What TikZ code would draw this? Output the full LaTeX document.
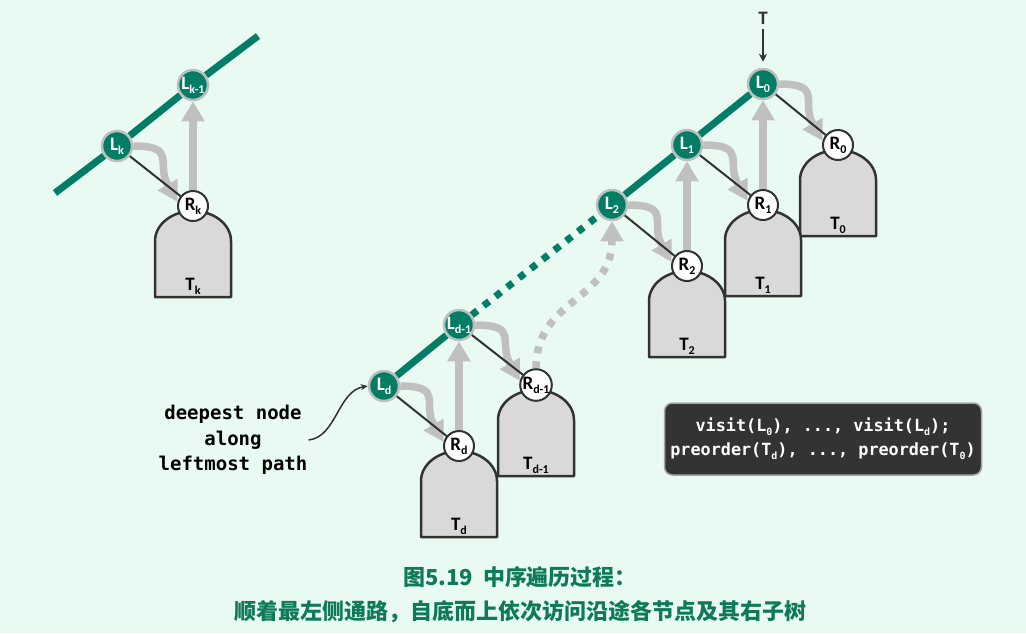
\documentclass[tikz,border=0pt]{standalone}
\usepackage{fontspec}
\setmainfont{Carlito}
\newfontfamily\mono{DejaVu Sans Mono}
\newfontfamily\cjk{Noto Sans CJK SC}
\usetikzlibrary{arrows.meta,calc}
\definecolor{bgc}{RGB}{232,250,241}
\definecolor{grn}{RGB}{0,125,100}
\definecolor{gry}{RGB}{192,192,192}
\definecolor{lbord}{RGB}{190,190,190}
\definecolor{dk}{RGB}{50,50,50}
\definecolor{domefill}{RGB}{217,217,217}
\definecolor{capc}{RGB}{14,122,90}
\definecolor{boxc}{RGB}{51,51,51}
\definecolor{boxb}{RGB}{165,165,165}
\newcommand\sbs[1]{\raisebox{-0.22em}{\fontsize{12}{12}\selectfont #1}}
\newcommand\sbm[1]{\raisebox{-0.22em}{\fontsize{10}{10}\selectfont #1}}
\pgfdeclarelayer{bgl}\pgfdeclarelayer{arr}\pgfdeclarelayer{edg}\pgfdeclarelayer{dom}
\pgfsetlayers{bgl,arr,edg,dom,main}
\newcommand\dome[2]{%
  \begin{pgfonlayer}{dom}
    \draw[domest] ($(#1)+(-38,-91)$) -- ($(#1)+(-38,-35)$)
      arc[start angle=180,end angle=0,x radius=38,y radius=30]
      -- ($(#1)+(38,-91)$) -- cycle;
  \end{pgfonlayer}
  \node[tlab] (T-#1) at ($(#1)+(0,-80)$) {T\sbs{#2}};}
\begin{document}
\begin{tikzpicture}[x=1pt,y=1pt,
  lnode/.style={circle,minimum size=30pt,inner sep=0pt,fill=grn,draw=lbord,line width=2.5pt,text=white,font=\bfseries\fontsize{19}{19}\selectfont},
  rnode/.style={circle,minimum size=30pt,inner sep=0pt,fill=white,draw=dk,line width=2pt,text=black,font=\bfseries\fontsize{19}{19}\selectfont},
  tlab/.style={inner sep=1pt,text=black,font=\bfseries\fontsize{19}{19}\selectfont},
  domest/.style={fill=domefill,draw=dk,line width=2.5pt,line join=round},
  garr/.style={draw=gry,line width=7.5pt,-{Triangle[length=20pt,width=22pt]}},
  gline/.style={draw=grn,line width=7pt},
  treeedge/.style={draw=dk,line width=2pt},
  tarr/.style={draw=dk,line width=2pt,-{Stealth[length=8pt,width=8pt]}},
  annarr/.style={draw=dk,line width=1.5pt,-{Stealth[length=7pt,width=6pt]}},
  anntxt/.style={inner sep=1pt,align=center,text=black,font=\mono\bfseries\fontsize{19}{25.5}\selectfont},
  codebox/.style={rounded corners=8pt,fill=boxc,draw=boxb,line width=1.5pt,minimum width=317pt,minimum height=72pt,text=white,align=center,font=\mono\bfseries\fontsize{16.8}{24}\selectfont},
  captxt/.style={inner sep=0pt,text=capc,font=\cjk\bfseries\fontsize{22}{22}\selectfont}]
\begin{pgfonlayer}{bgl}
  \fill[bgc] (0,0) rectangle (1026,-633);
\end{pgfonlayer}
\useasboundingbox (0,0) rectangle (1026,-633);

% nodes
\node[lnode] (Lk)  at (117,-146) {L\sbs{k}};
\node[lnode] (Lk1) at (193,-85)  {L\sbs{k-1}};
\node[rnode] (Rk)  at (193,-206) {R\sbs{k}};
\node[lnode] (L0)  at (763,-84)  {L\sbs{0}};
\node[lnode] (L1)  at (687,-145) {L\sbs{1}};
\node[lnode] (L2)  at (612,-205) {L\sbs{2}};
\node[lnode] (Ld1) at (459,-325) {L\sbs{d-1}};
\node[lnode] (Ld)  at (384,-386) {L\sbs{d}};
\node[rnode] (R0)  at (838,-145) {R\sbs{0}};
\node[rnode] (R1)  at (763,-205) {R\sbs{1}};
\node[rnode] (R2)  at (687,-266) {R\sbs{2}};
\node[rnode] (Rd1) at (536,-385) {R\sbs{d-1}};
\node[rnode] (Rd)  at (459,-446) {R\sbs{d}};
\coordinate (kstart) at (55,-193);
\coordinate (kend) at (258,-36);

% domes
\dome{Rk}{k}
\dome{R0}{0}
\dome{R1}{1}
\dome{R2}{2}
\dome{Rd1}{d-1}
\dome{Rd}{d}

% gray arrows
\begin{pgfonlayer}{arr}
  \draw[garr] (Rk.north) -- (Lk1.south);
  \draw[garr] (R1.north) -- (L0.south);
  \draw[garr] (R2.north) -- (L1.south);
  \draw[garr] (Rd.north) -- (Ld1.south);
  \draw[garr] (Lk.east) to[out=0,in=120,looseness=1.6] (Rk.165);
  \draw[garr] (L0.east) to[out=0,in=120,looseness=1.6] (R0.165);
  \draw[garr] (L1.east) to[out=0,in=120,looseness=1.6] (R1.165);
  \draw[garr] (L2.east) to[out=0,in=120,looseness=1.6] (R2.165);
  \draw[garr] (Ld1.east) to[out=0,in=120,looseness=1.6] (Rd1.165);
  \draw[garr] (Ld.east) to[out=0,in=120,looseness=1.6] (Rd.165);
  \draw[garr,dash pattern=on 7pt off 8pt] (Rd1.north) .. controls +(0,70) and +(0,-80) .. (L2.south);
\end{pgfonlayer}

% edges and green path
\begin{pgfonlayer}{edg}
  \draw[treeedge] (Lk) -- (Rk);
  \draw[treeedge] (L0) -- (R0);
  \draw[treeedge] (L1) -- (R1);
  \draw[treeedge] (L2) -- (R2);
  \draw[treeedge] (Ld1) -- (Rd1);
  \draw[treeedge] (Ld) -- (Rd);
  \draw[gline] (kstart) -- (Lk);
  \draw[gline] (Lk) -- (Lk1);
  \draw[gline] (Lk1) -- (kend);
  \draw[gline] (Ld) -- (Ld1);
  \draw[gline,dash pattern=on 7pt off 8pt] (Ld1) -- (L2);
  \draw[gline] (L2) -- (L1);
  \draw[gline] (L1) -- (L0);
\end{pgfonlayer}

% T entry
\node[tlab,text=dk] (Ttop) at (763,-18) {T};
\draw[tarr,shorten >=6pt,shorten <=4pt] (Ttop) -- (L0);

% annotation
\node[anntxt] (ann) at (233,-440) {deepest node\\along\\leftmost path};
\draw[annarr] (ann.east) .. controls +(28,3) and +(-30,-5) .. (Ld.west);

% code box
\node[codebox] (code) at (823,-439) {visit(L\sbm{0}), ..., visit(L\sbm{d});\\preorder(T\sbm{d}), ..., preorder(T\sbm{0})};

% caption
\node[captxt] (cap1) at (520,-577) {图5.19\ \ 中序遍历过程：};
\node[captxt] (cap2) at (520,-612) {顺着最左侧通路，自底而上依次访问沿途各节点及其右子树};
\end{tikzpicture}
\end{document}
